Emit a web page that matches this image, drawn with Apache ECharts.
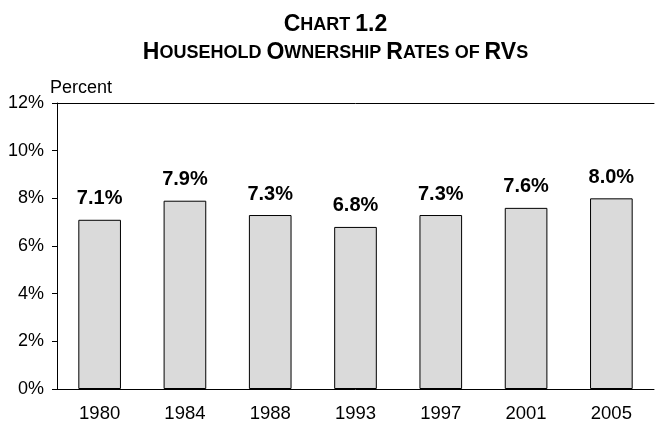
<!DOCTYPE html>
<html>
<head>
<meta charset="utf-8">
<script src="https://cdn.jsdelivr.net/npm/echarts@6/dist/echarts.min.js"></script>
<style>
  html, body { margin: 0; padding: 0; background: #fff; }
  #main { width: 655px; height: 428px; }
</style>
</head>
<body>
<div id="main"></div>
<script>
var years = ["1980", "1984", "1988", "1993", "1997", "2001", "2005"];
var rates = [7.1, 7.9, 7.3, 6.8, 7.3, 7.6, 8.0];

var chart = echarts.init(document.getElementById("main"));
var font = "Arial, 'Liberation Sans', sans-serif";

var option = {
  animation: false,
  textStyle: { fontFamily: font },
  title: {
    left: "center",
    top: 6,
    // {p} is an empty spacer that nudges the centred title a few px right
    text: "{p| }{b|C}{s|HART} {b|1.2}\n{p| }{b|H}{s|OUSEHOLD} {b|O}{s|WNERSHIP} {b|R}{s|ATES OF} {b|RV}{s|S}",
    textStyle: {
      rich: {
        p: { width: 16, fontSize: 18, lineHeight: 28 },
        b: { fontSize: 23, fontWeight: "bold", color: "#000", fontFamily: font, lineHeight: 28 },
        s: { fontSize: 18, fontWeight: "bold", color: "#000", fontFamily: font, lineHeight: 28 }
      }
    }
  },
  grid: { left: 57, right: 1, top: 103, bottom: 39 },
  xAxis: [
    {
      type: "category",
      data: years,
      axisLine: { lineStyle: { color: "#000", width: 1 } },
      axisTick: { show: false },
      axisLabel: { color: "#000", fontSize: 18.5, margin: 15, fontFamily: font }
    },
    {
      type: "category",
      position: "top",
      data: years,
      axisLine: { show: true, lineStyle: { color: "#000", width: 1 } },
      axisTick: { show: false },
      axisLabel: { show: false }
    }
  ],
  yAxis: {
    type: "value",
    min: 0,
    max: 12,
    interval: 2,
    name: "Percent",
    nameLocation: "end",
    nameGap: 6,
    nameTextStyle: { color: "#000", fontSize: 18, align: "left", padding: [0, 0, 0, -7], fontFamily: font },
    axisLine: { show: true, lineStyle: { color: "#000", width: 1 } },
    axisTick: { show: true, length: 5, lineStyle: { color: "#000" } },
    splitLine: { show: false },
    axisLabel: {
      color: "#000",
      fontSize: 18,
      margin: 13,
      fontFamily: font,
      formatter: function (v) { return v + "%"; }
    }
  },
  series: [
    {
      type: "bar",
      data: rates,
      barWidth: "50%",
      itemStyle: {
        color: "#dadada",
        borderColor: "#000",
        borderWidth: 1
      },
      label: {
        show: true,
        position: "top",
        distance: 11,
        color: "#000",
        fontSize: 20,
        fontWeight: "bold",
        fontFamily: font,
        formatter: function (p) { return p.value.toFixed(1) + "%"; }
      }
    }
  ]
};

chart.setOption(option);
</script>
</body>
</html>
